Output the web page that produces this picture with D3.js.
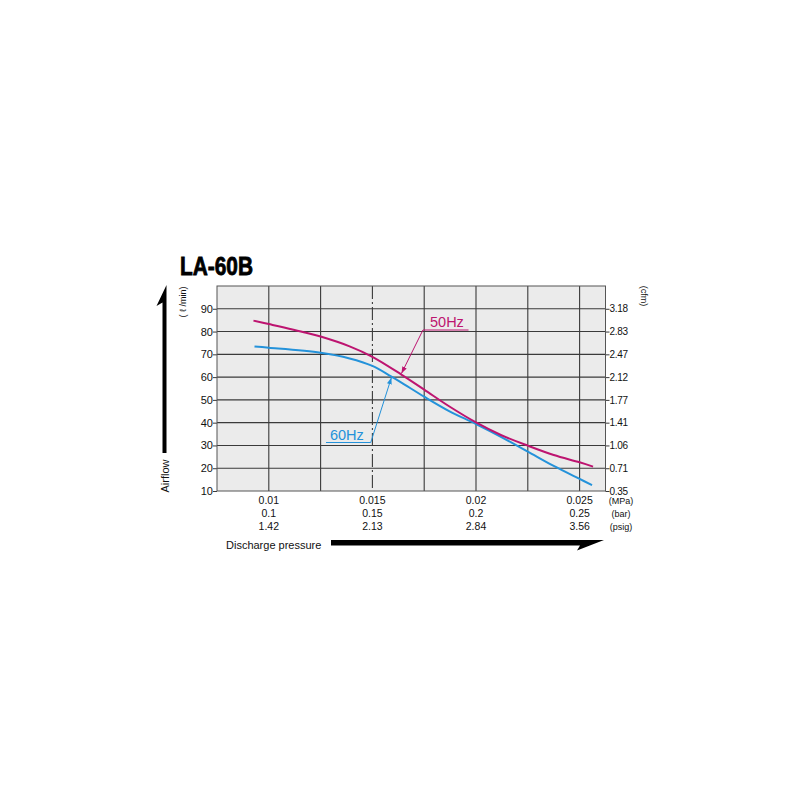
<!DOCTYPE html>
<html>
<head>
<meta charset="utf-8">
<script src="https://cdn.jsdelivr.net/npm/d3@7"></script>
<style>
  body { margin: 0; background: #fff; }
  text { font-family: "Liberation Sans", Arial, sans-serif; fill: #111; }
</style>
</head>
<body>
<div class="chart-holder"></div>
<script>
// bottom axis (three unit rows)
const pressureMPa = [0.01, 0.015, 0.02, 0.025];
const pressureBar = ['0.1', '0.15', '0.2', '0.25'];
const pressurePsig = ['1.42', '2.13', '2.84', '3.56'];
const pressureGrid = [0.01, 0.0125, 0.015, 0.0175, 0.02, 0.0225, 0.025];

// left / right axis
const airflowTicks = [10, 20, 30, 40, 50, 60, 70, 80, 90];
const cfmTicks = ['0.35', '0.71', '1.06', '1.41', '1.77', '2.12', '2.47', '2.83', '3.18'];

// curves: [MPa, l/min]
const hz50 = [[0.00926, 84.8], [0.01, 83.3], [0.0118, 79.5], [0.0125, 77.8], [0.0139, 73.5],
  [0.015, 68.9], [0.0164, 61.1], [0.0175, 54.5], [0.0187, 47.2], [0.02, 40.1],
  [0.0212, 34.6], [0.0225, 29.9], [0.02375, 25.8], [0.025, 22.6], [0.02565, 20.7]];
const hz60 = [[0.00931, 73.4], [0.01, 72.9], [0.0125, 70.7], [0.0139, 68.2], [0.015, 64.9],
  [0.0159, 60.3], [0.0164, 57.6], [0.0175, 51.4], [0.0187, 45.1], [0.02, 39.4],
  [0.0212, 33.8], [0.0225, 27.3], [0.02375, 21.0], [0.025, 15.3], [0.0256, 12.6]];

const c50 = '#bd1470';
const c60 = '#2492da';
const gridColor = '#3a3a3a';

const svg = d3.select('.chart-holder')
  .append('svg')
  .attr('width', 800)
  .attr('height', 800);

const x = d3.scaleLinear().domain([0.0075, 0.02625]).range([217, 605.5]);
const y = d3.scaleLinear().domain([10, 100]).range([491, 286]);

// plot background
svg.append('rect')
  .attr('x', x(0.0075)).attr('y', y(100))
  .attr('width', x(0.02625) - x(0.0075))
  .attr('height', y(10) - y(100))
  .attr('fill', '#ebebeb');

// horizontal grid + outside ticks
const yAxisL = d3.axisLeft(y).tickValues(airflowTicks).tickSize(4).tickFormat(d3.format('d'));
const yAxisR = d3.axisRight(y).tickValues(airflowTicks).tickSize(4)
  .tickFormat((d, i) => cfmTicks[i]);

const gl = svg.append('g').attr('transform', `translate(${x(0.0075)},0)`).call(yAxisL);
gl.select('.domain').remove();
gl.selectAll('line').attr('stroke', gridColor);
gl.selectAll('text').attr('font-size', 11).attr('x', -4).style('font-family', '"Liberation Sans", Arial, sans-serif');

const gr = svg.append('g').attr('transform', `translate(${x(0.02625)},0)`).call(yAxisR);
gr.select('.domain').remove();
gr.selectAll('line').attr('stroke', gridColor);
gr.selectAll('text').attr('font-size', 10).attr('x', 4)
  .style('font-family', '"Liberation Sans", Arial, sans-serif')
  .style('letter-spacing', '-0.3px');

svg.append('g').selectAll('line')
  .data(airflowTicks.filter(d => d > 10))
  .join('line')
  .attr('x1', x(0.0075)).attr('x2', x(0.02625))
  .attr('y1', d => y(d)).attr('y2', d => y(d))
  .attr('stroke', gridColor).attr('stroke-width', 1.1);

// vertical grid, 0.015 is dash-dot
svg.append('g').selectAll('line')
  .data(pressureGrid)
  .join('line')
  .attr('x1', d => x(d)).attr('x2', d => x(d))
  .attr('y1', y(100)).attr('y2', y(10))
  .attr('stroke', gridColor).attr('stroke-width', 1.1)
  .attr('stroke-dasharray', d => d === 0.015 ? '13,3,2,3' : null);

// frame
svg.append('rect')
  .attr('x', x(0.0075)).attr('y', y(100))
  .attr('width', x(0.02625) - x(0.0075))
  .attr('height', y(10) - y(100))
  .attr('fill', 'none').attr('stroke', '#555').attr('stroke-width', 1);

// bottom labels
const rows = [pressureMPa.map(String), pressureBar, pressurePsig];
const units = ['(MPa)', '(bar)', '(psig)'];
rows.forEach((row, r) => {
  svg.append('g').selectAll('text')
    .data(row)
    .join('text')
    .attr('x', (d, i) => x(pressureMPa[i]))
    .attr('y', 504 + r * 13)
    .attr('text-anchor', 'middle')
    .attr('font-size', 10.5)
    .text(d => d);
  svg.append('text')
    .attr('x', 621).attr('y', 504 + r * 13)
    .attr('text-anchor', 'middle')
    .attr('font-size', 9)
    .text(units[r]);
});

// curves
const line = d3.line().x(d => x(d[0])).y(d => y(d[1])).curve(d3.curveCatmullRom.alpha(0.5));
svg.append('path').datum(hz60).attr('d', line)
  .attr('fill', 'none').attr('stroke', c60).attr('stroke-width', 2);
svg.append('path').datum(hz50).attr('d', line)
  .attr('fill', 'none').attr('stroke', c50).attr('stroke-width', 2);

// arrow markers
const defs = svg.append('defs');
[['a50', c50], ['a60', c60]].forEach(([id, col]) => {
  defs.append('marker')
    .attr('id', id)
    .attr('viewBox', '0 0 10 10')
    .attr('refX', 10).attr('refY', 5)
    .attr('markerWidth', 7).attr('markerHeight', 7)
    .attr('markerUnits', 'userSpaceOnUse')
    .attr('orient', 'auto')
    .append('path').attr('d', 'M0,1.5L10,5L0,8.5Z').attr('fill', col);
});

// 50Hz callout
svg.append('text').attr('x', x(0.01778)).attr('y', 327)
  .attr('font-size', 14.5).style('fill', c50).text('50Hz');
svg.append('path')
  .attr('d', `M${x(0.01964)},330H${x(0.01744)}L${x(0.0164)},${y(61.1) - 1}`)
  .attr('fill', 'none').attr('stroke', c50).attr('stroke-width', 1)
  .attr('marker-end', 'url(#a50)');

// 60Hz callout
svg.append('text').attr('x', x(0.01295)).attr('y', 440)
  .attr('font-size', 14.5).style('fill', c60).text('60Hz');
svg.append('path')
  .attr('d', `M${x(0.01276)},442.5H${x(0.01492)}L${x(0.01592)},${y(60.3) + 1}`)
  .attr('fill', 'none').attr('stroke', c60).attr('stroke-width', 1)
  .attr('marker-end', 'url(#a60)');

// title, squeezed to a condensed heavy look
svg.append('text')
  .attr('x', 180).attr('y', 275)
  .attr('font-size', 25).attr('font-weight', 'bold')
  .attr('textLength', 73).attr('lengthAdjust', 'spacingAndGlyphs')
  .style('font-family', '"Liberation Sans", Arial, sans-serif')
  .style('fill', '#000').style('stroke', '#000').style('stroke-width', 0.8)
  .text('LA-60B');

// axis unit labels
svg.append('text')
  .attr('transform', 'translate(186,302) rotate(-90)')
  .attr('text-anchor', 'middle').attr('font-size', 9)
  .text('( ℓ /min)');
svg.append('text')
  .attr('transform', 'translate(641,296) rotate(90)')
  .attr('text-anchor', 'middle').attr('font-size', 9)
  .text('(cfm)');

// Airflow arrow
svg.append('path')
  .attr('d', 'M166.5,285L156.5,306L162.5,302.5V453H166.5Z')
  .attr('fill', '#000');
svg.append('text')
  .attr('transform', 'translate(169,476) rotate(-90)')
  .attr('text-anchor', 'middle').attr('font-size', 11)
  .text('Airflow');

// Discharge pressure arrow
svg.append('text')
  .attr('x', 226).attr('y', 549)
  .attr('font-size', 11)
  .text('Discharge pressure');
svg.append('path')
  .attr('d', 'M331,540H604L577,550.5L580,545.5H331Z')
  .attr('fill', '#000');
</script>
</body>
</html>
